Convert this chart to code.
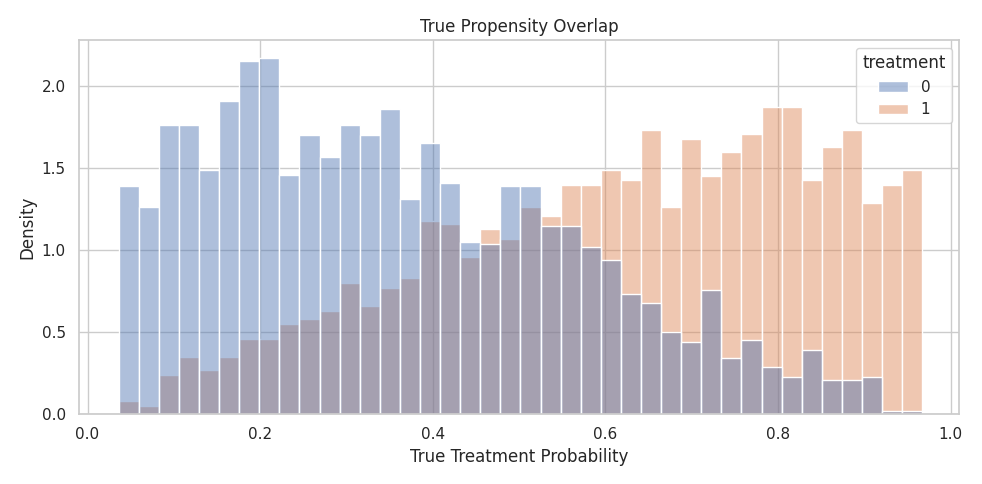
import numpy as np, pandas as pd, seaborn as sns, matplotlib
matplotlib.use("Agg")
import matplotlib.pyplot as plt

bin_start, bin_end, n_bins = 0.036, 0.967, 40
dens0 = [1.39,1.26,1.76,1.76,1.49,1.91,2.15,2.17,1.46,1.70,1.57,1.76,1.70,1.86,1.31,
         1.65,1.41,1.05,1.04,1.39,1.39,1.15,1.15,1.02,0.94,0.73,0.68,0.50,0.44,0.76,
         0.34,0.45,0.29,0.23,0.39,0.21,0.21,0.23,0.02,0.02]
dens1 = [0.08,0.05,0.24,0.35,0.27,0.35,0.46,0.46,0.55,0.58,0.63,0.80,0.66,0.77,0.83,
         1.18,1.16,0.96,1.13,1.07,1.26,1.21,1.40,1.40,1.49,1.43,1.73,1.26,1.68,1.45,
         1.60,1.71,1.87,1.87,1.43,1.63,1.73,1.29,1.40,1.49]

width = (bin_end - bin_start) / n_bins
centers = bin_start + width * (np.arange(n_bins) + 0.5)
df = pd.DataFrame({
    "p": np.concatenate([centers, centers]),
    "w": dens0 + dens1,
    "treatment": [0]*n_bins + [1]*n_bins,
})

sns.set_theme(style="whitegrid")
fig, ax = plt.subplots(figsize=(9.82, 4.84), dpi=100)
sns.histplot(data=df, x="p", weights="w", hue="treatment", bins=n_bins,
             binrange=(bin_start, bin_end), stat="count", alpha=0.45, ax=ax)
ax.set_xlabel("True Treatment Probability")
ax.set_ylabel("Density")
ax.set_title("True Propensity Overlap")
ax.set_xlim(-0.01, 1.01)
fig.tight_layout()
fig.savefig("out.png")
